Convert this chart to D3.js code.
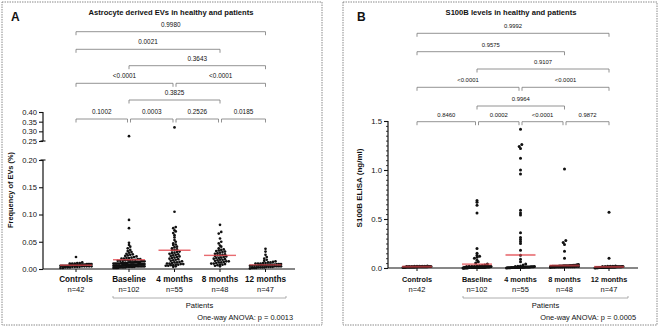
<!DOCTYPE html>
<html><head><meta charset="utf-8">
<script src="https://cdn.jsdelivr.net/npm/d3@7/dist/d3.min.js"></script>
<style>
body{margin:0;background:#fff}
svg{display:block}
text{font-family:"Liberation Sans",Arial,Helvetica,sans-serif;fill:#111}
</style>
</head><body>
<svg id="chart" width="661" height="329"></svg>
<script>
// ---------------- DATA ----------------
const categories = ["Controls", "Baseline", "4 months", "8 months", "12 months"];
const sampleSizes = ["n=42", "n=102", "n=55", "n=48", "n=47"];

// Panel A: frequency of astrocyte-derived EVs (%)
const evControls = [0.022,0.012,0.011,0.011,0.010,0.010,0.010,0.009,0.009,0.009,
  0.009,0.008,0.008,0.008,0.008,0.008,0.007,0.007,0.007,0.007,
  0.007,0.007,0.006,0.006,0.006,0.006,0.006,0.006,0.005,0.005,
  0.005,0.005,0.005,0.004,0.004,0.004,0.004,0.003,0.003,0.003,
  0.002,0.002];
const evBaseline = [0.275,0.090,0.075,0.048,0.044,0.041,0.038,0.035,0.033,0.031,
  0.030,0.028,0.027,0.026,0.025,0.024,0.023,0.022,0.021,
  0.020,0.020,0.019,0.019,0.018,0.018,0.017,0.017,
  0.016,0.016,0.016,0.015,0.015,0.015,0.014,0.014,0.014,
  0.013,0.013,0.013,0.013,0.012,0.012,0.012,0.012,
  0.011,0.011,0.011,0.011,0.011,0.010,0.010,0.010,0.010,0.010,
  0.009,0.009,0.009,0.009,0.009,0.009,0.008,0.008,0.008,0.008,0.008,0.008,
  0.007,0.007,0.007,0.007,0.007,0.007,0.007,
  0.006,0.006,0.006,0.006,0.006,0.006,0.006,
  0.005,0.005,0.005,0.005,0.005,0.005,0.005,
  0.004,0.004,0.004,0.004,0.004,0.004,
  0.003,0.003,0.003,0.003,0.003,
  0.002,0.002,0.002,0.002];
const ev4Months = [0.320,0.105,0.077,0.075,0.071,0.069,0.066,0.062,0.058,0.053,
  0.050,0.047,0.045,0.044,0.041,0.040,0.038,0.036,0.035,0.034,
  0.032,0.031,0.030,0.029,0.028,0.027,0.026,0.025,0.024,0.023,
  0.022,0.021,0.020,0.019,0.018,0.017,0.016,0.015,0.014,0.013,
  0.012,0.012,0.011,0.010,0.010,0.009,0.009,0.008,0.008,0.007,
  0.007,0.006,0.006,0.005,0.004];
const ev8Months = [0.081,0.068,0.065,0.056,0.050,0.047,0.043,0.041,0.038,0.036,
  0.035,0.034,0.033,0.032,0.031,0.030,0.029,0.028,0.027,0.026,
  0.025,0.025,0.024,0.023,0.022,0.021,0.020,0.020,0.019,0.018,
  0.017,0.017,0.016,0.015,0.014,0.014,0.013,0.012,0.012,0.011,
  0.010,0.010,0.009,0.008,0.008,0.007,0.006,0.005];
const ev12Months = [0.037,0.032,0.026,0.022,0.019,0.017,0.015,0.014,0.013,0.012,
  0.012,0.011,0.011,0.010,0.010,0.010,0.009,0.009,0.009,0.008,
  0.008,0.008,0.008,0.007,0.007,0.007,0.007,0.006,0.006,0.006,
  0.006,0.005,0.005,0.005,0.005,0.004,0.004,0.004,0.004,0.003,
  0.003,0.003,0.003,0.002,0.002,0.002,0.001];
const evMeans = [0.007, 0.017, 0.0345, 0.025, 0.0075];
const evTicksLow = [0, 0.05, 0.10, 0.15, 0.20];
const evTicksHigh = [0.25, 0.30, 0.35, 0.40];
const evComparisons = [
  [0,4,"0.9980",0],[0,3,"0.0021",1],[1,4,"0.3643",2],
  [0,2,"<0.0001",3],[2,4,"<0.0001",3],[1,3,"0.3825",4],
  [0,1,"0.1002",5],[1,2,"0.0003",5],[2,3,"0.2526",5],[3,4,"0.0185",5]];
const evAnova = "One-way ANOVA: p = 0.0013";

// Panel B: S100B ELISA (ng/ml)
const s100bControls = [0.020,0.019,0.018,0.018,0.017,0.017,0.016,0.016,0.016,0.015,
  0.015,0.015,0.015,0.014,0.014,0.014,0.014,0.013,0.013,0.013,
  0.013,0.013,0.012,0.012,0.012,0.012,0.012,0.011,0.011,0.011,
  0.011,0.010,0.010,0.010,0.010,0.009,0.009,0.009,0.008,0.008,
  0.007,0.006];
const s100bBaseline = [0.69,0.67,0.64,0.56,0.20,0.15,0.13,0.12,0.11,0.10,
  0.08,0.065,0.05,0.04,0.03,
  0.025,0.022,0.020,0.019,0.018,0.017,0.016,
  0.015,0.015,0.015,0.014,0.014,0.014,
  0.013,0.013,0.013,0.013,0.012,0.012,0.012,0.012,
  0.011,0.011,0.011,0.011,0.011,0.010,0.010,0.010,0.010,0.010,
  0.009,0.009,0.009,0.009,0.009,0.009,0.008,0.008,0.008,0.008,0.008,0.008,
  0.007,0.007,0.007,0.007,0.007,0.007,0.006,0.006,0.006,0.006,0.006,0.006,
  0.005,0.005,0.005,0.005,0.005,0.005,0.004,0.004,0.004,0.004,0.004,0.004,
  0.003,0.003,0.003,0.003,0.003,0.003,0.002,0.002,0.002,0.002,0.002,
  0.001,0.001,0.001];
const s100b4Months = [1.415,1.26,1.24,1.22,1.12,1.00,0.96,0.59,0.56,0.54,
  0.36,0.31,0.29,0.27,0.25,0.18,0.13,0.09,0.065,0.04,
  0.030,0.020,0.018,0.016,0.015,0.014,0.013,0.012,0.012,0.011,
  0.011,0.010,0.010,0.009,0.009,0.008,0.008,0.008,0.007,0.007,
  0.007,0.006,0.006,0.006,0.005,0.005,0.005,0.004,0.004,0.004,
  0.003,0.003,0.002,0.002,0.001];
const s100b8Months = [1.01,0.28,0.26,0.24,0.17,0.10,
  0.035,0.032,0.030,0.029,0.028,0.027,0.026,0.025,0.025,0.024,
  0.024,0.023,0.023,0.022,0.022,0.021,0.021,0.020,0.020,0.019,
  0.019,0.018,0.018,0.017,0.017,0.016,0.016,0.015,0.015,0.014,
  0.014,0.013,0.013,0.012,0.012,0.011,0.010,0.010,0.009,0.008,
  0.007,0.006];
const s100b12Months = [0.57,0.10,
  0.020,0.019,0.018,0.017,0.016,0.016,0.015,0.015,0.014,0.014,
  0.013,0.013,0.013,0.012,0.012,0.012,0.011,0.011,0.011,0.010,
  0.010,0.010,0.009,0.009,0.009,0.008,0.008,0.008,0.007,0.007,
  0.007,0.006,0.006,0.006,0.005,0.005,0.005,0.004,0.004,0.004,
  0.003,0.003,0.002,0.002,0.001];
const s100bMeans = [0.014, 0.038, 0.133, 0.025, 0.012];
const s100bTicks = [0, 0.5, 1.0, 1.5];
const s100bComparisons = [
  [0,4,"0.9992",0],[0,3,"0.9575",1],[1,4,"0.9107",2],
  [0,2,"<0.0001",3],[2,4,"<0.0001",3],[1,3,"0.9964",4],
  [0,1,"0.8460",5],[1,2,"0.0002",5],[2,3,"<0.0001",5],[3,4,"0.9872",5]];
const s100bAnova = "One-way ANOVA: p = 0.0005";

// ---------------- DRAWING ----------------
const svg = d3.select("#chart");
const FONT = '"Liberation Sans",Arial,Helvetica,sans-serif';

function swarm(values, yOf, cx, halfW, d) {
  const pts = values.map(v => ({v, y: yOf(v)}));
  const rows = d3.group(pts, p => Math.round(p.y / d));
  rows.forEach(row => {
    row.sort((a, b) => a.v - b.v);
    const n = row.length;
    const s = n > 1 ? Math.min(d, 2 * halfW / (n - 1)) : 0;
    row.forEach((p, i) => { p.x = cx + (i - (n - 1) / 2) * s; });
  });
  return pts;
}

function panel(cfg) {
  const g = svg.append("g");
  g.append("rect").attr("x", cfg.frame[0]).attr("y", cfg.frame[1])
    .attr("width", cfg.frame[2]).attr("height", cfg.frame[3])
    .attr("fill", "none").attr("stroke", "#8a8a8a").attr("stroke-width", 1)
    .attr("stroke-dasharray", "1.5,1");
  g.append("text").attr("x", cfg.letterX).attr("y", 21).text(cfg.letter)
    .attr("font-size", 12).attr("font-weight", "bold").attr("fill", "#111");
  g.append("text").attr("x", cfg.titleX).attr("y", 14.5).attr("text-anchor", "middle")
    .attr("font-size", 7.6).attr("font-weight", "bold").attr("fill", "#111").text(cfg.title);

  const x = d3.scaleOrdinal().domain(categories).range(cfg.xPos);

  g.append("line").attr("x1", cfg.axisX).attr("x2", cfg.axisEnd)
    .attr("y1", cfg.y0).attr("y2", cfg.y0).attr("stroke", "#111").attr("stroke-width", 1.2);
  categories.forEach(c => {
    g.append("line").attr("x1", x(c)).attr("x2", x(c)).attr("y1", cfg.y0).attr("y2", cfg.y0 + 3)
      .attr("stroke", "#111").attr("stroke-width", 1);
    g.append("text").attr("x", x(c)).attr("y", 282).attr("text-anchor", "middle")
      .attr("font-size", cfg.catFont).attr("font-weight", "bold").attr("fill", "#111").text(c);
  });
  sampleSizes.forEach((s, i) => {
    g.append("text").attr("x", x(categories[i])).attr("y", 292).attr("text-anchor", "middle")
      .attr("font-size", 7.5).attr("fill", "#222").text(s);
  });
  const pb = cfg.patients;
  g.append("path").attr("d", `M${pb[0]},${296} V${298} H${pb[1]} V${296}`)
    .attr("fill", "none").attr("stroke", "#999").attr("stroke-width", 0.8);
  g.append("text").attr("x", (pb[0] + pb[1]) / 2).attr("y", 308).attr("text-anchor", "middle")
    .attr("font-size", 7.6).attr("fill", "#111").text("Patients");
  g.append("text").attr("x", cfg.anovaX).attr("y", 320).attr("text-anchor", "end")
    .attr("font-size", 7.4).attr("fill", "#111").text(cfg.anova);

  g.append("text").attr("transform", `translate(${cfg.ylabX},${cfg.ylabY}) rotate(-90)`)
    .attr("text-anchor", "middle").attr("font-size", cfg.ylabFont).attr("font-weight", "bold")
    .attr("fill", "#111").text(cfg.ylab);

  cfg.comps.forEach(([a, b, lab, lev]) => {
    const yl = cfg.levels[lev];
    const sameLevel = cfg.comps.filter(c => c[3] === lev);
    let x1 = x(categories[a]), x2 = x(categories[b]);
    if (sameLevel.some(c => c[1] === a)) x1 += 1.5;
    if (sameLevel.some(c => c[0] === b)) x2 -= 1.5;
    g.append("path").attr("d", `M${x1},${yl + 3.5} V${yl} H${x2} V${yl + 3.5}`)
      .attr("fill", "none").attr("stroke", "#777").attr("stroke-width", 0.8);
    g.append("text").attr("x", (x1 + x2) / 2).attr("y", yl - 5).attr("text-anchor", "middle")
      .attr("font-size", cfg.compFont).attr("fill", "#333").text(lab);
  });

  return {g, x};
}

// ---------- Panel A ----------
(function () {
  const {g, x} = panel({
    frame: [2, 2, 320, 323], letter: "A", letterX: 11,
    title: "Astrocyte derived EVs in healthy and patients", titleX: 171,
    xPos: [76, 129, 174.5, 220, 265.5], axisX: 43, axisEnd: 295, y0: 269,
    catFont: 8.2, patients: [113, 286], anovaX: 293, anova: evAnova,
    ylab: "Frequency of EVs (%)", ylabX: 13, ylabY: 190, ylabFont: 7.4,
    comps: evComparisons, levels: [31.7, 49.3, 65.7, 83.3, 100, 119], compFont: 6.4
  });
  const yLow = d3.scaleLinear().domain([0, 0.2]).range([269, 160]);
  const yHigh = d3.scaleLinear().domain([0.25, 0.40]).range([141, 112]);
  const yOf = v => v >= 0.25 ? yHigh(v) : yLow(v);
  const axX = 43;
  const aLow = g.append("g").attr("transform", `translate(${axX},0)`)
    .call(d3.axisLeft(yLow).tickValues(evTicksLow).tickFormat(d3.format(".2f")).tickSize(4).tickPadding(2));
  const aHigh = g.append("g").attr("transform", `translate(${axX},0)`)
    .call(d3.axisLeft(yHigh).tickValues(evTicksHigh).tickFormat(d3.format(".2f")).tickSize(4).tickPadding(2));
  [aLow, aHigh].forEach(a => {
    a.select(".domain").attr("d", null);
    a.selectAll(".tick line").attr("stroke", "#111").attr("stroke-width", 1.1);
    a.selectAll(".tick text").attr("font-size", 7.6).attr("font-family", FONT).attr("fill", "#111");
  });
  g.append("line").attr("x1", axX).attr("x2", axX).attr("y1", yLow(0)).attr("y2", yLow(0.2))
    .attr("stroke", "#111").attr("stroke-width", 1.2);
  g.append("line").attr("x1", axX).attr("x2", axX).attr("y1", yHigh(0.25)).attr("y2", yHigh(0.40))
    .attr("stroke", "#111").attr("stroke-width", 1.2);
  [yLow(0.2), yHigh(0.25)].forEach(yy => g.append("line").attr("x1", axX - 2.5).attr("x2", axX + 2.5)
    .attr("y1", yy).attr("y2", yy).attr("stroke", "#111").attr("stroke-width", 1.1));

  const groups = [evControls, evBaseline, ev4Months, ev8Months, ev12Months];
  groups.forEach((vals, i) => {
    const cx = x(categories[i]);
    const pts = swarm(vals, yOf, cx, 15.5, 2.5);
    g.append("g").selectAll("circle").data(pts).join("circle")
      .attr("cx", d => d.x).attr("cy", d => d.y).attr("r", 1.35).attr("fill", "#111");
    g.append("line").attr("x1", cx - 16).attr("x2", cx + 16)
      .attr("y1", yOf(evMeans[i])).attr("y2", yOf(evMeans[i]))
      .attr("stroke", "#e2474d").attr("stroke-opacity", 0.8).attr("stroke-width", 1.4);
  });
})();

// ---------- Panel B ----------
(function () {
  const {g, x} = panel({
    frame: [343, 2, 314, 323], letter: "B", letterX: 357,
    title: "S100B levels in healthy and patients", titleX: 511,
    xPos: [417, 477, 520.5, 564.5, 609], axisX: 388, axisEnd: 638, y0: 268,
    catFont: 7.3, patients: [463, 628], anovaX: 636, anova: s100bAnova,
    ylab: "S100B ELISA (ng/ml)", ylabX: 362, ylabY: 188, ylabFont: 8,
    comps: s100bComparisons, levels: [33.3, 51.7, 69, 87.3, 106, 121.7], compFont: 5.9
  });
  const y = d3.scaleLinear().domain([0, 1.5]).range([268, 121]);
  const axX = 388;
  const ax = g.append("g").attr("transform", `translate(${axX},0)`)
    .call(d3.axisLeft(y).tickValues(s100bTicks).tickFormat(d3.format(".1f")).tickSize(4).tickPadding(2));
  ax.select(".domain").attr("d", null);
  ax.selectAll(".tick line").attr("stroke", "#111").attr("stroke-width", 1.1);
  ax.selectAll(".tick text").attr("font-size", 7.8).attr("font-family", FONT).attr("fill", "#111");
  const minor = g.append("g").attr("transform", `translate(${axX},0)`)
    .call(d3.axisLeft(y).ticks(30).tickSize(2).tickFormat(""));
  minor.select(".domain").attr("d", null);
  minor.selectAll(".tick line").attr("stroke", "#111").attr("stroke-width", 0.8);
  g.append("line").attr("x1", axX).attr("x2", axX).attr("y1", y(0)).attr("y2", y(1.5))
    .attr("stroke", "#111").attr("stroke-width", 1.2);

  const groups = [s100bControls, s100bBaseline, s100b4Months, s100b8Months, s100b12Months];
  groups.forEach((vals, i) => {
    const cx = x(categories[i]);
    const pts = swarm(vals, y, cx, 14, 2.6);
    g.append("g").selectAll("circle").data(pts).join("circle")
      .attr("cx", d => d.x).attr("cy", d => d.y).attr("r", 1.5).attr("fill", "#111");
    g.append("line").attr("x1", cx - 15).attr("x2", cx + 15)
      .attr("y1", y(s100bMeans[i])).attr("y2", y(s100bMeans[i]))
      .attr("stroke", "#e2474d").attr("stroke-opacity", 0.65).attr("stroke-width", 2);
  });
})();
</script>
</body></html>
